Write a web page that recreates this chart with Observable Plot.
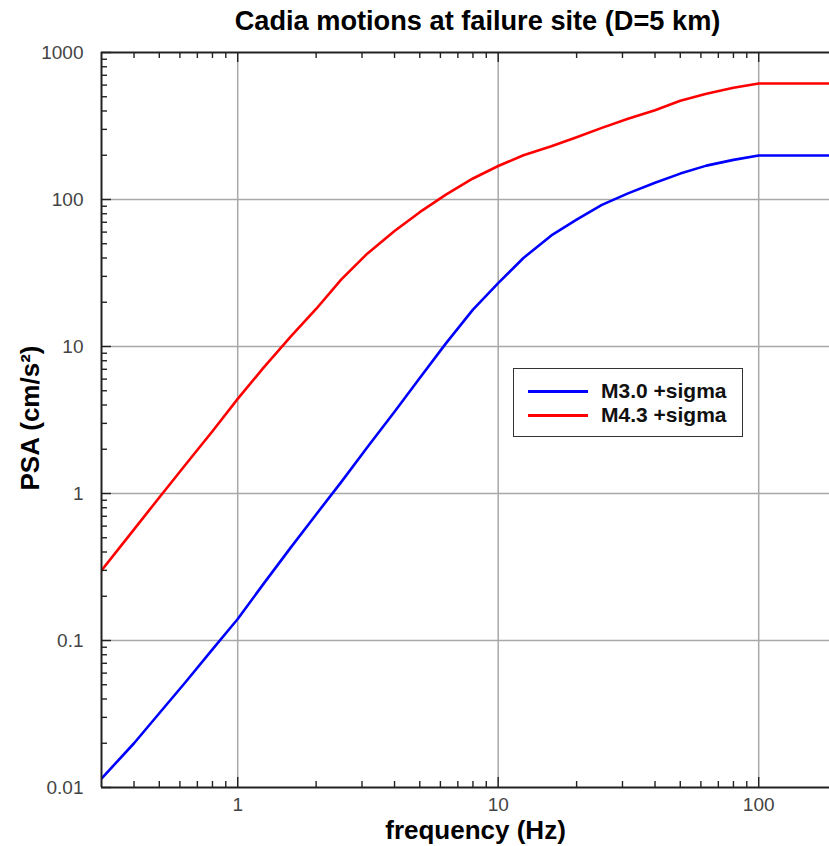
<!DOCTYPE html>
<html><head><meta charset="utf-8">
<script src="https://cdn.jsdelivr.net/npm/d3@7"></script>
<script src="https://cdn.jsdelivr.net/npm/@observablehq/plot@0.6"></script>
<style>
body{margin:0;background:#fff;font-family:"Liberation Sans",Arial,sans-serif;}
#wrap{position:relative;width:829px;height:846px;overflow:hidden;}
#legend{position:absolute;left:513px;top:368px;width:228px;height:67px;border:1.5px solid #333;background:#fff;}
.item{position:absolute;left:14px;height:24px;display:flex;align-items:center;}
.item .sw{width:60px;height:3px;margin-right:13px;}
.item span{font-weight:bold;font-size:21px;color:#111;}
</style></head>
<body><div id="wrap"></div>
<script>
// Data
const freq = [0.3, 0.4, 0.5, 0.63, 0.8, 1, 1.25, 1.6, 2, 2.5, 3.15, 4, 5, 6.3, 8, 10, 12.5, 16, 20, 25, 31.5, 40, 50, 63, 80, 100, 200];
const m30  = [0.0115, 0.020, 0.032, 0.052, 0.087, 0.14, 0.24, 0.43, 0.72, 1.2, 2.07, 3.6, 6.1, 10.5, 17.8, 27, 40, 57, 73, 92, 110, 130, 150, 170, 186, 199, 199];
const m43  = [0.30, 0.57, 0.94, 1.57, 2.65, 4.4, 7.1, 11.7, 18, 28.6, 43, 61, 82, 108, 139, 169, 200, 230, 265, 307, 354, 405, 470, 524, 575, 615, 615];
const seriesNames  = ["M3.0 +sigma", "M4.3 +sigma"];
const seriesColors = ["#0000ff", "#ff0000"];
const yMajor  = [0.01, 0.1, 1, 10, 100, 1000];
const yLabels = ["0.01", "0.1", "1", "10", "100", "1000"];
const xMajor  = [1, 10, 100];
const xLabels = ["1", "10", "100"];
const xMinor  = [0.4, 0.5, 0.6, 0.7, 0.8, 0.9, 2, 3, 4, 5, 6, 7, 8, 9, 20, 30, 40, 50, 60, 70, 80, 90];
const yMinor  = [0.02,0.03,0.04,0.05,0.06,0.07,0.08,0.09, 0.2,0.3,0.4,0.5,0.6,0.7,0.8,0.9, 2,3,4,5,6,7,8,9, 20,30,40,50,60,70,80,90, 200,300,400,500,600,700,800,900];
const titleText = "Cadia motions at failure site (D=5 km)";
const xTitle = "frequency (Hz)";
const yTitle = "PSA (cm/s²)";

const data = freq.flatMap((f, i) => [
  {f, v: m30[i], s: seriesNames[0]},
  {f, v: m43[i], s: seriesNames[1]}
]);

// layout
const W = 829, H = 846, mL = 101, mT = 52, mB = 59, mR = 0;
const fw = W - mL - mR, fh = H - mT - mB;
const gridStyle = {stroke: "#a8a8a8", strokeOpacity: 1, strokeWidth: 1.5};
const axisColor = "#222";
const tickStyle = {stroke: "#222", strokeWidth: 1.4, strokeOpacity: 1};
const minorLen = 6, majorLen = 10;

const chart = Plot.plot({
  width: W, height: H,
  marginTop: mT, marginBottom: mB, marginLeft: mL, marginRight: mR,
  style: {background: "#fff", fontFamily: "Liberation Sans, Arial, sans-serif", overflow: "visible"},
  x: {type: "log", domain: [0.3, 187], label: null},
  y: {type: "log", domain: [0.01, 1000], label: null},
  color: {domain: seriesNames, range: seriesColors},
  marks: [
    Plot.gridX(xMajor, gridStyle),
    Plot.gridY(yMajor.slice(1, -1), gridStyle),
    Plot.line(data, {x: "f", y: "v", z: "s", stroke: "s", strokeWidth: 2.6, clip: true}),
    // frame (left, top, bottom)
    Plot.ruleX([0.3], {stroke: axisColor, strokeWidth: 2}),
    Plot.ruleY([0.01, 1000], {stroke: axisColor, strokeWidth: 2}),
    // inward ticks: bottom, top, left
    Plot.tickX(xMinor, {x: d => d, insetTop: fh - minorLen, ...tickStyle}),
    Plot.tickX(xMajor, {x: d => d, insetTop: fh - majorLen, ...tickStyle}),
    Plot.tickX(xMinor, {x: d => d, insetBottom: fh - minorLen, ...tickStyle}),
    Plot.tickX(xMajor, {x: d => d, insetBottom: fh - majorLen, ...tickStyle}),
    Plot.tickY(yMinor, {y: d => d, insetRight: fw - minorLen, ...tickStyle}),
    Plot.tickY(yMajor, {y: d => d, insetRight: fw - majorLen, ...tickStyle}),
    // tick labels
    Plot.axisX(xMajor, {anchor: "bottom", tickSize: 0, tickPadding: 10, fontSize: 19, label: null, fill: "#444",
      tickFormat: d => xLabels[xMajor.indexOf(d)]}),
    Plot.axisY(yMajor, {anchor: "left", tickSize: 0, tickPadding: 18, fontSize: 19, label: null, fill: "#444",
      tickFormat: d => yLabels[yMajor.indexOf(d)]}),
    // titles
    Plot.text([titleText], {text: d => d, frameAnchor: "top", dx: 12, dy: -31, fontSize: 27.2, fontWeight: "bold", lineAnchor: "middle", textAnchor: "middle", fill: "#000"}),
    Plot.text([xTitle], {text: d => d, frameAnchor: "bottom", dx: 10, dy: 51, fontSize: 26, fontWeight: "bold", lineAnchor: "bottom", textAnchor: "middle", fill: "#000"}),
    Plot.text([yTitle], {text: d => d, frameAnchor: "left", dx: -71, dy: -2, rotate: -90, fontSize: 26, fontWeight: "bold", lineAnchor: "middle", textAnchor: "middle", fill: "#000"})
  ]
});

const wrap = document.getElementById("wrap");
wrap.appendChild(chart);

// legend
const legend = document.createElement("div");
legend.id = "legend";
seriesNames.forEach((name, i) => {
  const item = document.createElement("div");
  item.className = "item";
  item.style.top = (10 + i * 24) + "px";
  const sw = document.createElement("div");
  sw.className = "sw";
  sw.style.background = seriesColors[i];
  const label = document.createElement("span");
  label.textContent = name;
  item.appendChild(sw);
  item.appendChild(label);
  legend.appendChild(item);
});
wrap.appendChild(legend);
</script>
</body></html>
